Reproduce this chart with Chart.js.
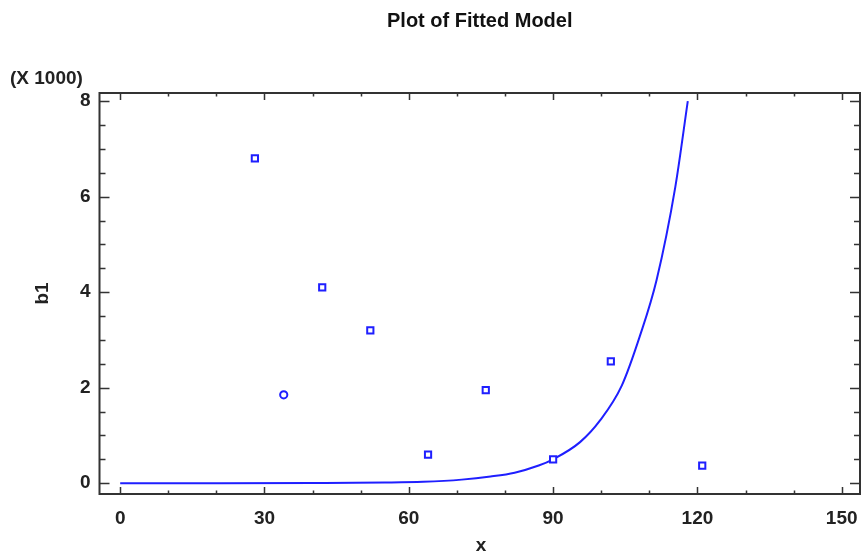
<!DOCTYPE html>
<html>
<head>
<meta charset="utf-8">
<script src="https://cdn.jsdelivr.net/npm/chart.js@4.4.1/dist/chart.umd.min.js"></script>
<style>
  html, body { margin: 0; padding: 0; background: #fff; }
  #wrap { width: 861px; height: 554px; }
</style>
</head>
<body>
<div id="wrap"><canvas id="chartFit"></canvas></div>
<script>
// observed points (b1 in raw units, axis shows them x 1000)
const obsX = [28, 34, 42, 52, 64, 76, 90, 102, 121];
const obsY = [6800, 1850, 4100, 3200, 600, 1950, 500, 2550, 370];

// fitted model
const fitX = [0, 20, 40, 55, 63, 71, 77, 82, 87, 90, 95.6, 99.8, 104.3, 108.1, 111.5, 115.4, 118];
const fitY = [0, 0, 5, 15, 30, 75, 140, 220, 370, 500, 860, 1320, 2050, 3100, 4250, 6200, 8000];

const xTicks = [0, 30, 60, 90, 120, 150];
const yTicks = [0, 2000, 4000, 6000, 8000];

const blue = "#1f1fff";
const ink = "#222";
const fontFamily = "'Liberation Sans', Arial, sans-serif";

// frame + inward ticks + axis captions, placed with the chart's own scales
const framePlugin = {
  id: "frame",
  afterDraw(chart) {
    const { ctx, chartArea: a, scales: { x, y } } = chart;
    ctx.save();
    ctx.strokeStyle = "#333";
    ctx.lineWidth = 2;
    ctx.strokeRect(a.left, a.top, a.right - a.left, a.bottom - a.top);

    ctx.lineWidth = 1.5;
    ctx.beginPath();
    for (let v = 0; v <= 150; v += 10) {
      const px = Math.round(x.getPixelForValue(v)) + 0.5;
      const len = v % 30 === 0 ? 7 : 3.5;
      ctx.moveTo(px, a.bottom); ctx.lineTo(px, a.bottom - len);
      ctx.moveTo(px, a.top); ctx.lineTo(px, a.top + len);
    }
    for (let v = 0; v <= 8000; v += 500) {
      const py = Math.round(y.getPixelForValue(v)) + 0.5;
      const len = v % 2000 === 0 ? 10 : 6;
      ctx.moveTo(a.left, py); ctx.lineTo(a.left + len, py);
      ctx.moveTo(a.right, py); ctx.lineTo(a.right - len, py);
    }
    ctx.stroke();

    ctx.fillStyle = ink;
    ctx.font = "bold 19px " + fontFamily;
    ctx.textAlign = "center";
    ctx.textBaseline = "middle";
    ctx.fillText("x", 481, 546);

    ctx.save();
    ctx.translate(43, (a.top + a.bottom) / 2);
    ctx.rotate(-Math.PI / 2);
    ctx.fillText("b1", 0, 0);
    ctx.restore();

    ctx.textAlign = "left";
    ctx.fillText("(X 1000)", 10, 79);
    ctx.restore();
  }
};

const fitData = fitX.map((v, i) => ({ x: v, y: fitY[i] }));
const obsData = obsX.map((v, i) => ({ x: v, y: obsY[i] }));

new Chart(document.getElementById("chartFit"), {
  type: "scatter",
  data: {
    datasets: [
      {
        label: "fit",
        type: "line",
        data: fitData,
        borderColor: blue,
        borderWidth: 2,
        pointRadius: 0,
        fill: false,
        cubicInterpolationMode: "monotone",
        order: 2,
      },
      {
        label: "observed",
        data: obsData,
        pointStyle: ctx => ctx.dataIndex === 1 ? "circle" : "rect",
        pointRadius: ctx => ctx.dataIndex === 1 ? 3.6 : 4.4,
        borderColor: blue,
        backgroundColor: "#fff",
        borderWidth: 2,
        order: 1,
      },
    ],
  },
  options: {
    responsive: true,
    maintainAspectRatio: false,
    animation: false,
    layout: { autoPadding: false, padding: { left: 0, right: 1, top: 0, bottom: 0 } },
    plugins: {
      legend: { display: false },
      tooltip: { enabled: false },
      title: {
        display: true,
        text: "Plot of Fitted Model",
        fullSize: false,
        color: "#111",
        font: { family: fontFamily, size: 20, weight: "bold", lineHeight: 1.2 },
        padding: { top: 9, bottom: 60 },
      },
    },
    scales: {
      x: {
        type: "linear",
        min: -4.3,
        max: 153.8,
        afterFit: s => { s.height = 60; s.paddingLeft = 0; s.paddingRight = 0; },
        afterBuildTicks: s => { s.ticks = xTicks.map(v => ({ value: v })); },
        grid: { display: false, drawTicks: false },
        border: { display: false },
        ticks: {
          padding: 13,
          color: ink,
          font: { family: fontFamily, size: 19, weight: "bold" },
        },
      },
      y: {
        type: "linear",
        min: -226,
        max: 8170,
        afterFit: s => { s.width = 99.5; s.paddingTop = 0; s.paddingBottom = 0; },
        afterBuildTicks: s => { s.ticks = yTicks.map(v => ({ value: v })); },
        grid: { display: false, drawTicks: false },
        border: { display: false },
        ticks: {
          padding: 9,
          color: ink,
          font: { family: fontFamily, size: 19, weight: "bold" },
          callback: v => v / 1000,
        },
      },
    },
  },
  plugins: [framePlugin],
});
</script>
</body>
</html>
